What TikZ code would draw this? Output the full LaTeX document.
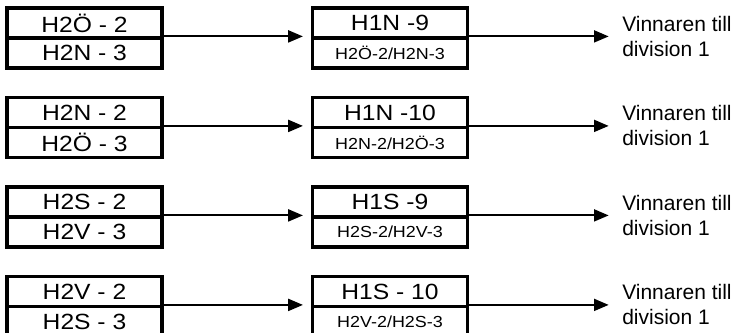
\documentclass[tikz,border=0pt]{standalone}
\usepackage{fontspec}
\setmainfont{Liberation Sans}
\newfontfamily\boxfont[FakeStretch=1.12]{Liberation Sans}
\usetikzlibrary{arrows.meta}
\tikzset{
  half/.style={draw=black, line width=2.4pt, minimum width=116.25pt, minimum height=22.5pt, inner sep=0pt},
  bigtxt/.style={font=\boxfont\fontsize{16.5}{19}\selectfont},
  smalltxt/.style={font=\boxfont\fontsize{12}{14}\selectfont},
  lbl/.style={align=left, inner sep=0pt, font=\fontsize{15.75}{18.75}\selectfont},
  arr/.style={line width=1.4pt, -{Triangle[length=11pt,width=9pt]}}
}
\newcommand\pairrow[6]{%
  \node[half,bigtxt] (a#1) at (84.5,#2+15) {#3};
  \node[half,bigtxt] (b#1) at (84.5,#2+45) {#4};
  \node[half,bigtxt] (c#1) at (390,#2+15) {#5};
  \node[half,smalltxt] (d#1) at (390,#2+45) {#6};
  \node[lbl,anchor=west] (v#1) at (622,#2+28) {Vinnaren till\\division 1};
  \draw[arr,shorten >=6pt] (b#1.north east) -- (d#1.north west);
  \draw[arr,shorten >=10pt] (d#1.north east) -- (d#1.north east -| v#1.west);
}
\begin{document}
\begin{tikzpicture}[x=0.75pt,y=-0.75pt]
\useasboundingbox (0,0) rectangle (737,332);
\clip (0,0) rectangle (737,332);
\fill[white] (0,0) rectangle (737,332);
\pairrow{1}{8}{H2Ö - 2}{H2N - 3}{H1N -9}{H2Ö-2/H2N-3}
\pairrow{2}{97.5}{H2N - 2}{H2Ö - 3}{H1N -10}{H2N-2/H2Ö-3}
\pairrow{3}{187}{H2S - 2}{H2V - 3}{H1S -9}{H2S-2/H2V-3}
\pairrow{4}{276.5}{H2V - 2}{H2S - 3}{H1S - 10}{H2V-2/H2S-3}
\end{tikzpicture}
\end{document}
